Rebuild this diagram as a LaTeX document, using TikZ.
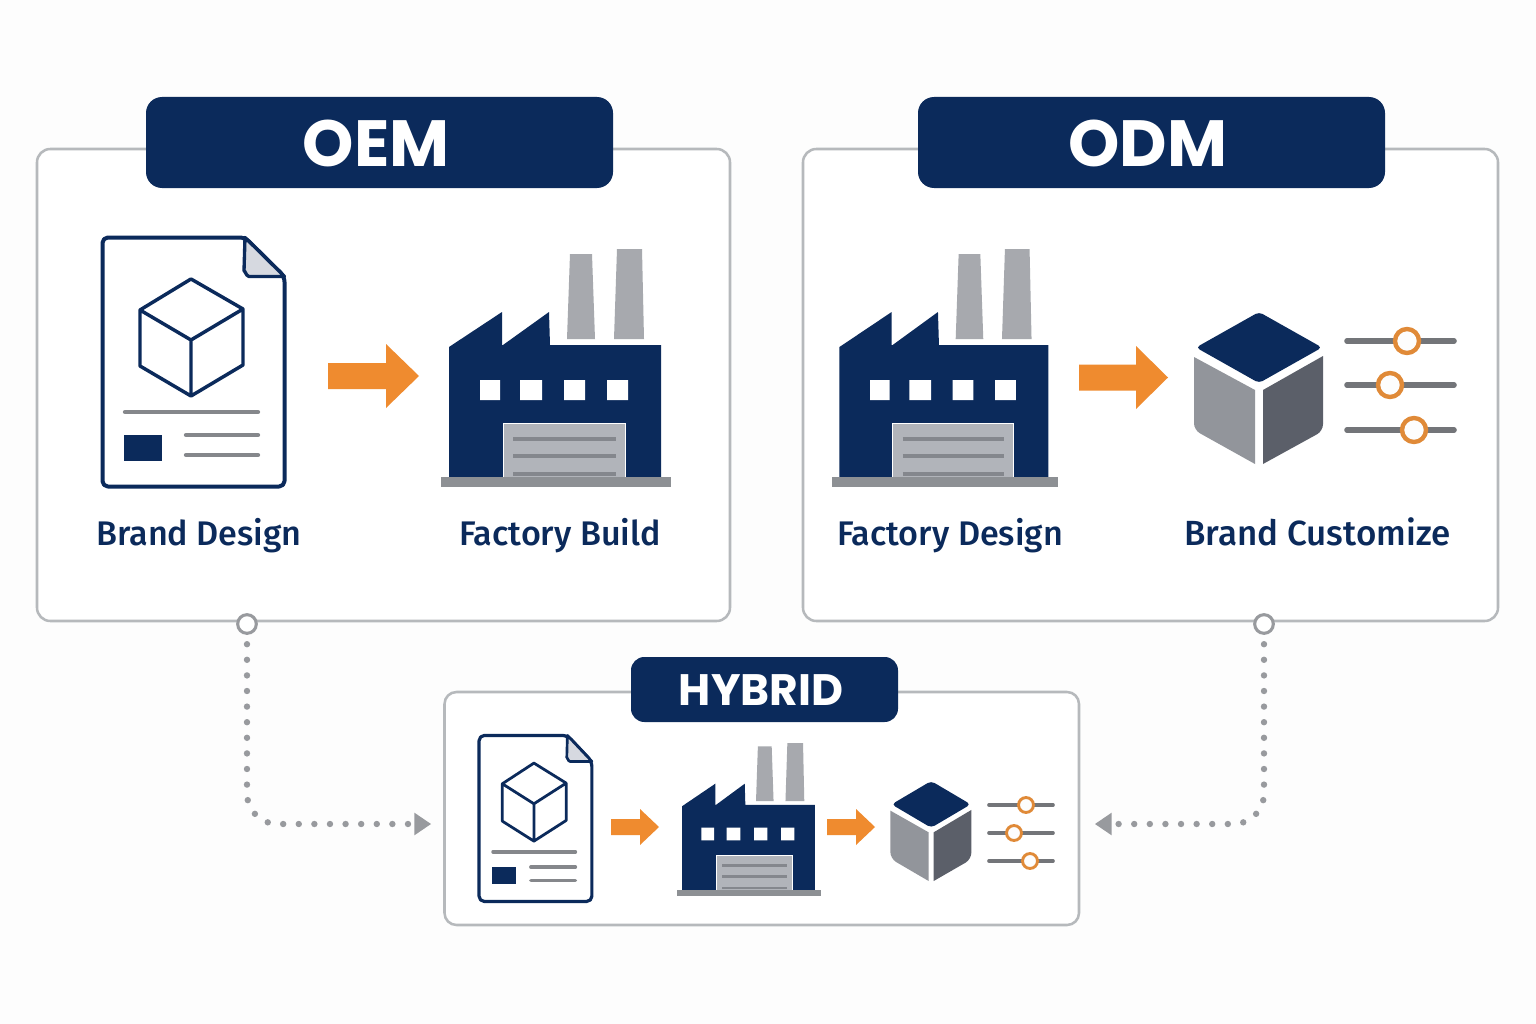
\documentclass[tikz,border=0pt]{standalone}
\usepackage{fontspec}
\usetikzlibrary{arrows.meta}
\setmainfont{Poppins}
\newfontfamily\labelfont{Fira Sans}[BoldFont={Fira Sans Medium}]
\definecolor{navy}{HTML}{0B2A5B}
\definecolor{orangeA}{HTML}{EF8B2F}
\definecolor{ringO}{HTML}{E08A38}
\definecolor{frameG}{HTML}{B6B9BC}
\definecolor{lineG}{HTML}{85878B}
\definecolor{chimG}{HTML}{A7A9AE}
\definecolor{doorG}{HTML}{B1B4BA}
\definecolor{doorL}{HTML}{84878D}
\definecolor{baseG}{HTML}{8D9094}
\definecolor{foldG}{HTML}{D6D9E0}
\definecolor{faceL}{HTML}{92959B}
\definecolor{faceR}{HTML}{5B5F69}
\definecolor{slideG}{HTML}{737579}
\definecolor{dotG}{HTML}{989A9E}
\definecolor{bgW}{HTML}{FDFDFD}
\tikzset{
  x=.75pt,y=-.75pt,
  panel/.style={draw=frameG,line width=1.9pt,fill=white,rounded corners=10pt},
  titlebox/.style={fill=navy,rounded corners=#1},
  orangearrow/.style={fill=orangeA},
  caption/.style={font=\labelfont\bfseries\fontsize{25.6}{30}\selectfont,text=navy,inner sep=0pt,anchor=base},
  port/.style={circle,draw=dotG,line width=2.3pt,fill=white,minimum size=14pt,inner sep=0pt},
  dotlink/.style={draw=dotG,line width=4.8pt,line cap=round,dash pattern=on 0pt off 11.7pt,rounded corners=23pt,
     -{Triangle[length=12.5pt,width=17pt,color=dotG,line width=0pt,sep=0pt]}},
}
\newcommand{\docicon}[5]{%
\begin{scope}[shift={(#1,#2)},xscale=#3,yscale=#4,line join=round]
  \draw[navy,line width=#5*3pt,fill=white,rounded corners=4pt] (102.5,237.5) -- (245,237.5) -- (284.5,276.5) -- (284.5,486.5) -- (102.5,486.5) -- cycle;
  \draw[navy,line width=#5*2.5pt,fill=foldG] (245,237.5) -- (284.5,276.5) -- (249,276.5) to[out=180,in=90] (244,271) -- cycle;
  \draw[navy,line width=#5*2.6pt] (191,279) -- (243,309) -- (243,365) -- (191,396) -- (140,366) -- (140,310) -- cycle
     (140,310) -- (191,340) -- (243,309) (191,340) -- (191,396);
  \draw[lineG,line width=#5*3.2pt,line cap=round] (125,412) -- (258,412) (186,435) -- (258,435) (186,455) -- (258,455);
  \fill[navy] (124,435) rectangle (162,461);
\end{scope}}
\newcommand{\factoryicon}[5]{%
\begin{scope}[shift={(#1,#2)},xscale=#3,yscale=#4]
  \fill[chimG] (570,254) -- (592,254) -- (595,339) -- (567,339) -- cycle;
  \fill[chimG] (617,249) -- (642,249) -- (644,339) -- (614,339) -- cycle;
  \fill[navy] (449,347) -- (502,312) -- (502,345) -- (503,345) -- (549,312) -- (550,345) -- (661,345) -- (661,477) -- (449,477) -- cycle;
  \fill[white] (480,380) rectangle (500,400) (520,380) rectangle (542,400) (564,380) rectangle (585,400) (607,380) rectangle (628,400);
  \draw[white,line width=#5*.4pt,fill=doorG] (503,477) -- (503,423) -- (625,423) -- (625,477);
  \draw[doorL,line width=#5*3.2pt] (513,439) -- (616,439) (513,456) -- (616,456) (513,474) -- (616,474);
  \fill[baseG] (441,477) rectangle (671,487);
\end{scope}}
\newcommand{\solidcube}[4]{%
\begin{scope}[shift={(#1,#2)},xscale=#3,yscale=#4,line join=round]
  \fill[navy,rounded corners=3pt] (1259,312) -- (1322,347.5) -- (1259,383) -- (1196,347.5) -- cycle;
  \fill[faceL] (1194,357) -- (1255,390) -- (1255,464) [rounded corners=5pt] -- (1194,430) [sharp corners] -- cycle;
  \fill[faceR] (1323,356) -- (1263,390) -- (1263,464) [rounded corners=5pt] -- (1323,431) [sharp corners] -- cycle;
\end{scope}}
\newcommand{\slider}[6]{%
  \draw[slideG,line width=#6*4.2pt,line cap=round] (#1,#3) -- (#2,#3);
  \draw[ringO,line width=#6*3.3pt,fill=bgW] (#4,#3) circle[radius=#5pt];
}
\newcommand{\blockarrow}[6]{%
  \fill[orangearrow] (#1,{(#4+#5)/2-#6}) -- (#2,{(#4+#5)/2-#6}) -- (#2,#4) -- (#3,{(#4+#5)/2}) -- (#2,#5) -- (#2,{(#4+#5)/2+#6}) -- (#1,{(#4+#5)/2+#6}) -- cycle;
}
\begin{document}
\begin{tikzpicture}
\useasboundingbox (0,0) rectangle (1536,1024);
\fill[bgW] (0,0) rectangle (1536,1024);
\draw[panel] (37,149) rectangle (730,621);
\draw[panel] (803,149) rectangle (1498,621);
\draw[panel,rounded corners=9pt] (444.5,692) rectangle (1079,925);
\fill[titlebox=12pt] (146,97) rectangle (613,188);
\fill[titlebox=12pt] (918,97) rectangle (1385,188);
\fill[titlebox=10pt] (631,657) rectangle (898,722);
\node[text=white,font=\bfseries\fontsize{49}{58}\selectfont,inner sep=0pt] (oemtitle) at (376,143) {OEM};
\node[text=white,font=\bfseries\fontsize{49}{58}\selectfont,inner sep=0pt] (odmtitle) at (1148,143) {ODM};
\node[text=white,font=\bfseries\fontsize{33}{40}\selectfont,inner sep=0pt] (hybtitle) at (761,690) {HYBRID};
\docicon{0}{0}{1}{1}{1}
\blockarrow{328}{386}{419}{344}{408}{13}
\factoryicon{0}{0}{1}{1}{1}
\node[caption] (branddesign) at (199,545) {Brand Design};
\node[caption] (factorybuild) at (560,545) {Factory Build};
\factoryicon{397.2}{0}{.985}{1}{1}
\blockarrow{1079}{1136}{1168}{346}{409}{13}
\solidcube{0}{0}{1}{1}
\slider{1347}{1454}{341}{1407}{9}{1}
\slider{1347}{1454}{385}{1390}{9}{1}
\slider{1347}{1454}{430}{1414}{9}{1}
\node[caption] (factorydesign) at (950,545) {Factory Design};
\node[caption,font=\labelfont\bfseries\fontsize{26.2}{30}\selectfont] (brandcustom) at (1317.5,545) {Brand Customize};
\docicon{415.5}{577}{.62}{.667}{.8}
\blockarrow{611}{640}{659}{809}{845}{8}
\factoryicon{400.5}{582.8}{.627}{.644}{.65}
\blockarrow{827}{856}{875}{809}{845}{8}
\solidcube{140.5}{575.7}{.628}{.658}
\slider{989}{1053}{805}{1026}{5.6}{.65}
\slider{989}{1053}{833}{1014}{5.6}{.65}
\slider{989}{1053}{861}{1030}{5.6}{.65}
\node[port] (oemport) at (247,624) {};
\node[port] (odmport) at (1264,624) {};
\coordinate (hybleft) at (431,824);
\coordinate (hybright) at (1095,824);
\draw[dotlink] ([yshift=-7pt]oemport.south) |- (hybleft);
\draw[dotlink] ([yshift=-7pt]odmport.south) |- (hybright);
\end{tikzpicture}
\end{document}
